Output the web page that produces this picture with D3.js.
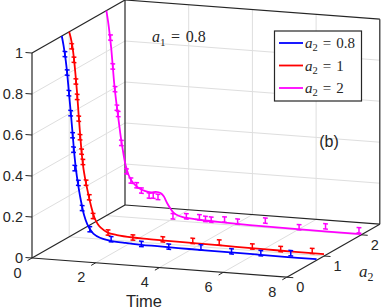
<!DOCTYPE html>
<html><head><meta charset="utf-8">
<script src="https://cdn.jsdelivr.net/npm/d3@7"></script>
<style>html,body{margin:0;padding:0;background:#fff;overflow:hidden;} svg{display:block;}</style>
</head><body>
<svg id="c" width="382" height="308"></svg>
<script>
// ---- data ----
const timeTicks = [0, 2, 4, 6, 8];
const a2Ticks = [0, 1, 2];
const zTicks = [0, 0.2, 0.4, 0.6, 0.8, 1];
const a2Values = [0.8, 1, 2];
const seriesColors = ["#0000ff", "#ff0000", "#ff00ff"];
const legendLabels = ["0.8", "1", "2"];

const lineTime   = [0,0.05,0.1,0.15,0.2,0.25,0.3,0.35,0.4,0.45,0.5,0.6,0.7,0.8,0.9,1.0,1.2,1.5,2,2.5,3,4,5,6,7,8];
const blueLine   = [1.0,0.96,0.91,0.85,0.77,0.685,0.6,0.51,0.42,0.35,0.295,0.205,0.135,0.092,0.065,0.047,0.03,0.02,0.014,0.011,0.01,0.008,0.007,0.006,0.005,0.005];
const redLine    = [1.0,0.97,0.93,0.87,0.79,0.7,0.59,0.49,0.4,0.335,0.29,0.215,0.15,0.1,0.072,0.055,0.035,0.026,0.02,0.018,0.016,0.015,0.013,0.011,0.01,0.009];
const magentaTime = [0,0.05,0.1,0.15,0.2,0.25,0.3,0.35,0.4,0.45,0.5,0.6,0.7,0.8,0.9,1.0,1.2,1.4,1.55,1.7,1.8,1.9,2.0,2.1,2.2,2.4,2.8,3.5,4.5,6,8];
const magentaLine = [1.0,0.95,0.89,0.82,0.73,0.64,0.57,0.51,0.45,0.39,0.34,0.255,0.205,0.177,0.16,0.148,0.135,0.13,0.134,0.13,0.115,0.085,0.06,0.04,0.03,0.021,0.015,0.01,0.006,0.004,0.003];

const blueMarkT  = [0.1,0.17,0.225,0.28,0.34,0.37,0.41,0.52,0.64,0.88,1.55,2.5,3.36,4.37,5.33,6.25,7.19];
const blueMarkZ  = [0.913,0.824,0.724,0.627,0.52,0.45,0.36,0.29,0.168,0.068,0.027,0.015,0.012,0.02,0.012,0.014,0.025];
const redMarkT   = [0.08,0.15,0.21,0.25,0.3,0.34,0.39,0.43,0.53,0.63,0.75,1.22,2.0,2.94,3.88,4.71,5.75,6.64,7.63];
const redMarkZ   = [0.93,0.865,0.76,0.685,0.58,0.49,0.42,0.37,0.27,0.2,0.11,0.035,0.02,0.022,0.025,0.027,0.02,0.018,0.02];
const magMarkT   = [0.13,0.2,0.27,0.33,0.37,0.47,0.63,0.77,0.95,1.1,1.34,1.47,1.62,2.09,2.51,2.92,3.11,3.29,3.71,4.12,4.99,6.05,6.88,7.93];
const magMarkZ   = [0.87,0.73,0.62,0.53,0.5,0.36,0.223,0.18,0.159,0.135,0.113,0.115,0.11,0.021,0.026,0.026,0.02,0.019,0.024,0.019,0.034,0.014,0.028,0.021];
const errHalf = [0.013, 0.013, 0.013];

// ---- projection ----
const tS = d3.scaleLinear().domain([0, 8]).range([0, 1]);
const aS = d3.scaleLinear().domain([0, 2.5]).range([0, 1]);
const zS = d3.scaleLinear().domain([0, 1]).range([0, 1]);
const O = [32, 258], VT = [254.8, 19.2], VA = [93, -53], VZ = [0, -205];
function P(t, a, z) {
  const u = tS(t), v = aS(a), w = zS(z);
  return [O[0] + u*VT[0] + v*VA[0] + w*VZ[0], O[1] + u*VT[1] + v*VA[1] + w*VZ[1]];
}

const svg = d3.select("#c");
svg.append("rect").attr("width", 382).attr("height", 308).attr("fill", "#fff");
const ink = "#262626", gridC = "#dedede";
const seg = (g, p, q, color, w) => g.append("line")
  .attr("x1", p[0]).attr("y1", p[1]).attr("x2", q[0]).attr("y2", q[1])
  .attr("stroke", color).attr("stroke-width", w);

// grid
const gG = svg.append("g");
const aMax = 2.5, tMax = 8;
[2,4,6].forEach(t => { seg(gG, P(t,aMax,0), P(t,aMax,1), gridC, 1); seg(gG, P(t,0,0), P(t,aMax,0), gridC, 1); });
[0.2,0.4,0.6,0.8].forEach(z => { seg(gG, P(0,aMax,z), P(tMax,aMax,z), gridC, 1); seg(gG, P(0,0,z), P(0,aMax,z), gridC, 1); });
[1,2].forEach(a => { seg(gG, P(0,a,0), P(0,a,1), gridC, 1); seg(gG, P(0,a,0), P(tMax,a,0), gridC, 1); });

// box
const bG = svg.append("g");
const bw = 1.2;
seg(bG, P(0,0,0), P(0,0,1), ink, bw);
seg(bG, P(0,0,1), P(0,aMax,1), ink, bw);
seg(bG, P(0,aMax,0), P(0,aMax,1), ink, bw);
seg(bG, P(0,aMax,1), P(tMax,aMax,1), ink, bw);
seg(bG, P(tMax,aMax,0), P(tMax,aMax,1), ink, bw);
seg(bG, P(0,aMax,0), P(tMax,aMax,0), ink, bw);
seg(bG, P(0,0,0), P(0,aMax,0), ink, bw);
seg(bG, P(0,0,0), P(tMax,0,0), ink, bw);
seg(bG, P(tMax,0,0), P(tMax,aMax,0), ink, bw);

// ticks
zTicks.forEach(z => { const p = P(0,0,z); seg(bG, p, [p[0]-6.5, p[1]-0.5], ink, 1); });
timeTicks.forEach(t => { const p = P(t,0,0); seg(bG, p, [p[0]-4.5, p[1]+2.6], ink, 1); });
a2Ticks.forEach(a => { const p = P(tMax,a,0); seg(bG, p, [p[0]+6.5, p[1]+0.5], ink, 1); });

// tick labels
const tl = svg.append("g").attr("font-family", "'Liberation Sans', Arial, sans-serif").attr("font-size", 14.5).attr("fill", ink);
zTicks.forEach(z => { const p = P(0,0,z); tl.append("text").attr("x", p[0]-9).attr("y", p[1]+5).attr("text-anchor","end").text(d3.format("~g")(z)); });
timeTicks.forEach(t => { const p = P(t,0,0); tl.append("text").attr("x", p[0]-14.5).attr("y", p[1]+19.5).attr("text-anchor","middle").text(t); });
a2Ticks.forEach(a => { const p = P(tMax,a,0); tl.append("text").attr("x", p[0]+13.5).attr("y", p[1]+15).attr("text-anchor","middle").text(a); });
svg.append("text").attr("x", 144).attr("y", 306.5).attr("text-anchor","middle")
  .attr("font-family","'Liberation Sans', Arial, sans-serif").attr("font-size", 16.5).attr("fill", ink).text("Time");

function mathLabel(g, x, y, letter, sub, rest, size, gap) {
  const t = g.append("text").attr("x", x).attr("y", y).attr("font-family","'Liberation Serif','Times New Roman',serif")
    .attr("font-size", size).attr("fill", ink);
  t.append("tspan").attr("font-style","italic").text(letter);
  t.append("tspan").attr("font-size", size*0.7).attr("dy", size*0.22).text(sub);
  if (rest !== null) {
    t.append("tspan").attr("dy", -size*0.22).attr("dx", gap).text("=");
    t.append("tspan").attr("dx", gap).text(rest);
  }
  return t;
}
mathLabel(svg, 359, 277, "a", "2", null, 17, 0);

// data curves
const lineGen = d3.line().curve(d3.curveCatmullRom.alpha(0.5));
const lines = [[lineTime, blueLine], [lineTime, redLine], [magentaTime, magentaLine]];
const marks = [[blueMarkT, blueMarkZ], [redMarkT, redMarkZ], [magMarkT, magMarkZ]];
const dG = svg.append("g");
lines.forEach((L, i) => {
  const pts = L[0].map((t, k) => P(t, a2Values[i], L[1][k]));
  dG.append("path").attr("d", lineGen(pts)).attr("fill","none").attr("stroke", seriesColors[i]).attr("stroke-width", 1.8);
});
marks.forEach((M, i) => {
  const a = a2Values[i], e = errHalf[i];
  M[0].forEach((t, k) => {
    const z = M[1][k];
    const lo = P(t, a, z - e), hi = P(t, a, z + e);
    seg(dG, lo, hi, seriesColors[i], 1.5);
    [lo, hi].forEach(p => seg(dG, [p[0]-2.4, p[1]-0.2], [p[0]+2.4, p[1]+0.2], seriesColors[i], 1.5));
  });
});

// annotation
mathLabel(svg, 152, 42, "a", "1", "0.8", 16, 5.5);
// (b)
svg.append("text").attr("x", 329).attr("y", 147).attr("text-anchor","middle")
  .attr("font-family","'Liberation Sans', Arial, sans-serif").attr("font-size", 16).attr("fill", ink).text("(b)");

// legend
const lg = svg.append("g");
lg.append("rect").attr("x", 274.5).attr("y", 31).attr("width", 87).attr("height", 70)
  .attr("fill", "#fff").attr("stroke", ink).attr("stroke-width", 1.2);
legendLabels.forEach((lab, i) => {
  const y = 43 + i*22.5;
  seg(lg, [279, y], [303, y], seriesColors[i], 1.8);
  mathLabel(lg, 305, y + 5, "a", "2", lab, 15, 5);
});
</script>
</body></html>
